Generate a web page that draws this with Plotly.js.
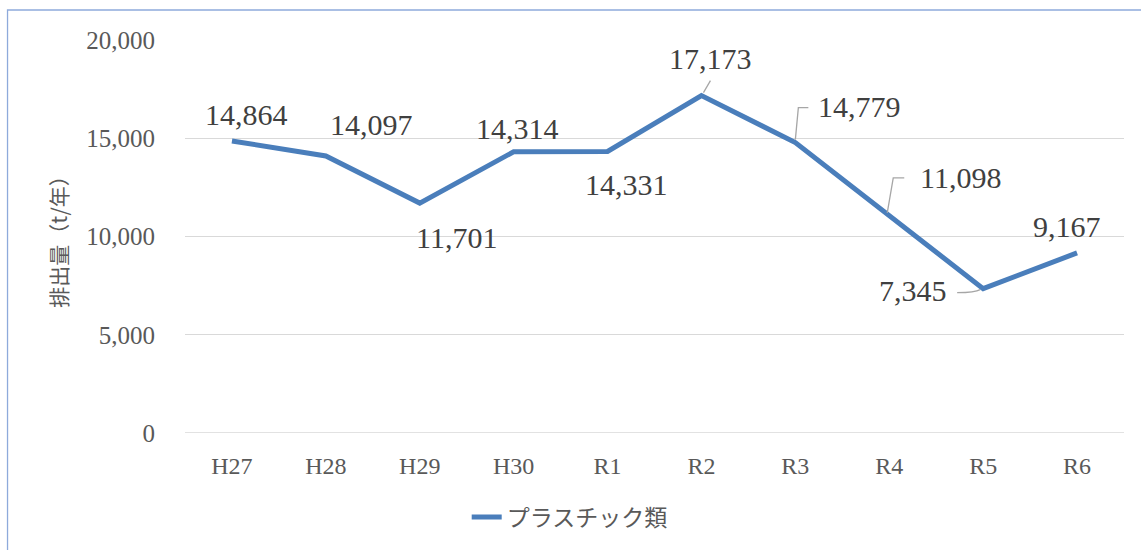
<!DOCTYPE html>
<html><head><meta charset="utf-8">
<script src="https://cdn.plot.ly/plotly-3.0.1.min.js"></script>
<style>html,body{margin:0;padding:0;background:#fff}#c{width:1141px;height:550px}</style>
</head><body><div id="c"></div>
<script>
const categories = ['H27','H28','H29','H30','R1','R2','R3','R4','R5','R6'];
const plasticValues = [14864,14097,11701,14314,14331,17173,14779,11098,7345,9167];
const seriesName = 'プラスチック類';
const yTickValues = [0,5000,10000,15000,20000];
const yTickLabels = ['0','5,000','10,000','15,000','20,000'];

// label placement (pixel offsets from the point, screen down = positive dy)
const labelDx = [15,46,37,4,19,9,64,71,-70,-10];
const labelDy = [-26,-31,34,-23,33,-37,-36,-37,2,-26];
// leader line paths (pixels relative to the point, up = positive), null = none
const leaderPaths = [null,null,null,null,null,
  'M 2,3 L 9,15', 'M 0,3 L 3,35 L 13,35', 'M -2,2 L 4,37 L 15,37', 'M -26,-4 Q -8,-4 -3,-1', null];

const fmt = v => v.toLocaleString('en-US');
const SERIF = 'Liberation Serif, Times New Roman, serif';
const mkNumFont = () => ({family:SERIF, size:30, color:'#404040'});

const annotations = categories.map((c,i)=>({
  x:c, y:plasticValues[i], xref:'x', yref:'y', text:fmt(plasticValues[i]),
  showarrow:false, xshift:labelDx[i], yshift:-labelDy[i], font:mkNumFont()
}));

const leaderShapes = [];
categories.forEach((c,i)=>{
  if (!leaderPaths[i]) return;
  leaderShapes.push({type:'path', xref:'x', yref:'y', xsizemode:'pixel', ysizemode:'pixel',
    xanchor:i, yanchor:plasticValues[i], path:leaderPaths[i],
    line:{color:'#a6a6a6', width:1.3}, fillcolor:'rgba(0,0,0,0)'});
});

const trace = {x:categories, y:plasticValues, type:'scatter', mode:'lines', name:seriesName,
  line:{color:'#4a7ebb', width:5, shape:'linear'}, hoverinfo:'skip'};

const layout = {
  width:1141, height:550,
  margin:{l:185, r:17, t:40, b:117},
  paper_bgcolor:'#ffffff', plot_bgcolor:'#ffffff',
  showlegend:true,
  legend:{orientation:'h', x:0.3, xanchor:'left', y:-0.214, yanchor:'middle',
    font:{family:'Noto Sans CJK JP, sans-serif', size:23, color:'#595959'}, bgcolor:'rgba(0,0,0,0)'},
  xaxis:{type:'category', range:[-0.5,9.5], showgrid:false, zeroline:false, showline:false,
    ticks:'outside', ticklen:11, tickcolor:'rgba(0,0,0,0)',
    tickfont:{family:SERIF, size:24, color:'#595959'},
    fixedrange:true},
  yaxis:{range:[0,20000], tickvals:yTickValues, ticktext:yTickLabels, showgrid:true,
    gridcolor:'#d9d9d9', gridwidth:1.3, zeroline:false, showline:false, ticks:'outside', ticklen:24, tickcolor:'rgba(0,0,0,0)',
    tickfont:{family:SERIF, size:25, color:'#595959'},
    title:{text:'排出量（t/年）', font:{family:'Noto Sans CJK JP, sans-serif', size:21, color:'#595959'}, standoff:12},
    fixedrange:true},
  annotations: annotations,
  shapes:[
    {type:'line', xref:'paper', yref:'y', x0:0, x1:1, y0:0, y1:0, line:{color:'#d9d9d9', width:1.3}, layer:'below'},
    {type:'rect', xref:'paper', yref:'paper', x0:-0.189, x1:1.2, y0:-0.6, y1:1.0763,
     line:{color:'#8eaadb', width:1.3}, fillcolor:'rgba(0,0,0,0)'}
  ].concat(leaderShapes)
};
Plotly.newPlot('c',[trace],layout,{displayModeBar:false, staticPlot:true});
</script></body></html>
